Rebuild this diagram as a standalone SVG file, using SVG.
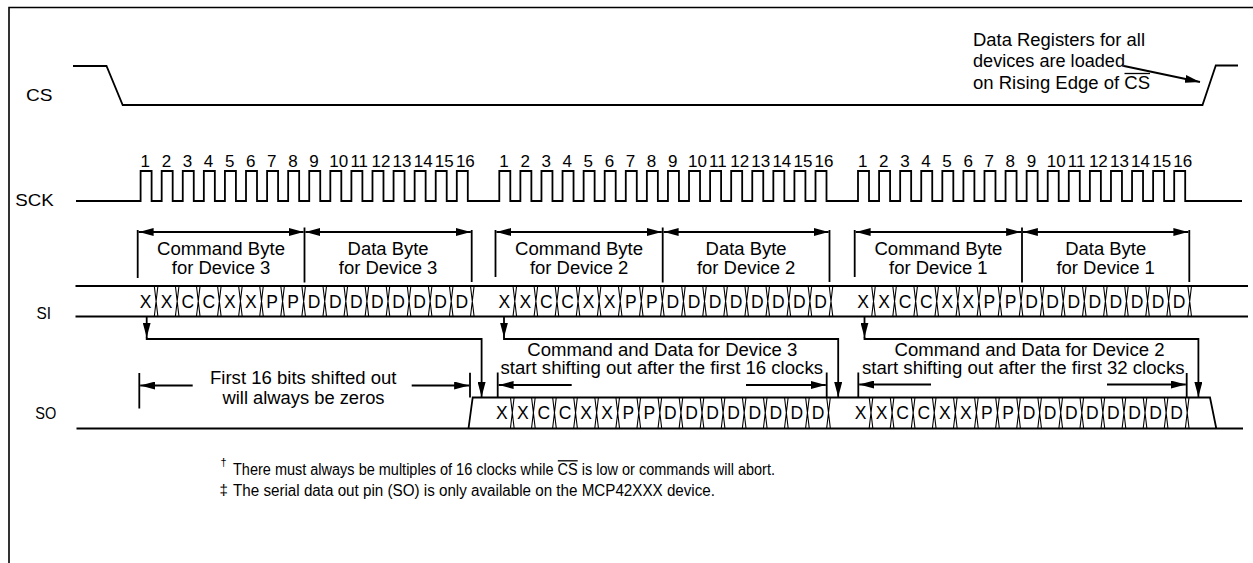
<svg xmlns="http://www.w3.org/2000/svg" width="1253" height="563" viewBox="0 0 1253 563">
<style>
.sig{fill:none;stroke:#000;stroke-width:1.8}
.thin{fill:none;stroke:#000;stroke-width:1.1}
.ovl{fill:none;stroke:#000;stroke-width:1.3}
text{font-family:"Liberation Sans",Arial,sans-serif;fill:#000}
.lbl{font-size:16.5px}
.ann{font-size:17.5px}
.bit{font-size:17.5px;text-anchor:middle}
.num{font-size:17px}
.fn{font-size:16px}
</style>
<defs>
<marker id="ah" viewBox="0 0 15 8" refX="15" refY="4" markerWidth="15" markerHeight="8" markerUnits="userSpaceOnUse" orient="auto-start-reverse"><path d="M0,0 L15,4 L0,8 z" fill="#000"/></marker>
<g id="word">
<path class="thin" d="M-1.8,0L1.8,30.5M-1.8,30.5L1.8,0M19.28,0L22.88,30.5M19.28,30.5L22.88,0M40.36,0L43.96,30.5M40.36,30.5L43.96,0M61.44,0L65.04,30.5M61.44,30.5L65.04,0M82.52,0L86.12,30.5M82.52,30.5L86.12,0M103.6,0L107.2,30.5M103.6,30.5L107.2,0M124.68,0L128.28,30.5M124.68,30.5L128.28,0M145.76,0L149.36,30.5M145.76,30.5L149.36,0M166.84,0L170.44,30.5M166.84,30.5L170.44,0M187.92,0L191.52,30.5M187.92,30.5L191.52,0M209,0L212.6,30.5M209,30.5L212.6,0M230.08,0L233.68,30.5M230.08,30.5L233.68,0M251.16,0L254.76,30.5M251.16,30.5L254.76,0M272.24,0L275.84,30.5M272.24,30.5L275.84,0M293.32,0L296.92,30.5M293.32,30.5L296.92,0M314.4,0L318,30.5M314.4,30.5L318,0"/>
<text class="bit" x="-10.54" y="21.8">X</text>
<text class="bit" x="10.54" y="21.8">X</text>
<text class="bit" x="31.62" y="21.8">C</text>
<text class="bit" x="52.70" y="21.8">C</text>
<text class="bit" x="73.78" y="21.8">X</text>
<text class="bit" x="94.86" y="21.8">X</text>
<text class="bit" x="115.94" y="21.8">P</text>
<text class="bit" x="137.02" y="21.8">P</text>
<text class="bit" x="158.10" y="21.8">D</text>
<text class="bit" x="179.18" y="21.8">D</text>
<text class="bit" x="200.26" y="21.8">D</text>
<text class="bit" x="221.34" y="21.8">D</text>
<text class="bit" x="242.42" y="21.8">D</text>
<text class="bit" x="263.50" y="21.8">D</text>
<text class="bit" x="284.58" y="21.8">D</text>
<text class="bit" x="305.66" y="21.8">D</text>
</g>
<g id="nums">
<text class="num" x="0" y="0">1</text>
<text class="num" x="21.08" y="0">2</text>
<text class="num" x="42.16" y="0">3</text>
<text class="num" x="63.24" y="0">4</text>
<text class="num" x="84.32" y="0">5</text>
<text class="num" x="105.4" y="0">6</text>
<text class="num" x="126.48" y="0">7</text>
<text class="num" x="147.56" y="0">8</text>
<text class="num" x="168.64" y="0">9</text>
<text class="num" x="188.7" y="0">10</text>
<text class="num" x="209.8" y="0">11</text>
<text class="num" x="230.9" y="0">12</text>
<text class="num" x="252" y="0">13</text>
<text class="num" x="273.1" y="0">14</text>
<text class="num" x="294.2" y="0">15</text>
<text class="num" x="315.3" y="0">16</text>
</g>
</defs>

<g id="border"><path class="sig" style="stroke-width:1.6" d="M9,563 V7.5 H1253"/></g>

<g id="signal-cs">
<text class="lbl" x="26" y="100.5" textLength="26.5" lengthAdjust="spacingAndGlyphs">CS</text>
<path class="sig" d="M73,66 H106.5 L122.7,105 H1202.5 L1215.8,65.5 H1238"/>
</g>

<g id="note-load">
<text class="ann" x="973" y="46" textLength="172" lengthAdjust="spacingAndGlyphs">Data Registers for all</text>
<text class="ann" x="973" y="67" textLength="152" lengthAdjust="spacingAndGlyphs">devices are loaded</text>
<text class="ann" x="973" y="89" textLength="177" lengthAdjust="spacingAndGlyphs">on Rising Edge of CS</text>
<path class="ovl" d="M1124.5,73.5 H1150"/>
</g>

<g id="signal-sck">
<text class="lbl" x="15.3" y="206" textLength="38.5" lengthAdjust="spacingAndGlyphs">SCK</text>
<path class="sig" d="M76,201 H140.6 v-30h11v30h10.08v-30h11v30h10.08v-30h11v30h10.08v-30h11v30h10.08v-30h11v30h10.08v-30h11v30h10.08v-30h11v30h10.08v-30h11v30h10.08v-30h11v30h10.08v-30h11v30h10.08v-30h11v30h10.08v-30h11v30h10.08v-30h11v30h10.08v-30h11v30h10.08v-30h11v30h10.08v-30h11v30h10.08 H499.3 v-30h11v30h10.08v-30h11v30h10.08v-30h11v30h10.08v-30h11v30h10.08v-30h11v30h10.08v-30h11v30h10.08v-30h11v30h10.08v-30h11v30h10.08v-30h11v30h10.08v-30h11v30h10.08v-30h11v30h10.08v-30h11v30h10.08v-30h11v30h10.08v-30h11v30h10.08v-30h11v30h10.08v-30h11v30h10.08 H858 v-30h11v30h10.08v-30h11v30h10.08v-30h11v30h10.08v-30h11v30h10.08v-30h11v30h10.08v-30h11v30h10.08v-30h11v30h10.08v-30h11v30h10.08v-30h11v30h10.08v-30h11v30h10.08v-30h11v30h10.08v-30h11v30h10.08v-30h11v30h10.08v-30h11v30h10.08v-30h11v30h10.08v-30h11v30h10.08 H1242"/>
<use href="#nums" transform="translate(140.6,166.5)"/>
<use href="#nums" transform="translate(499.3,166.5)"/>
<use href="#nums" transform="translate(858,166.5)"/>
</g>

<g id="brackets">
<path class="sig" d="M137.7,230 V278 M304.5,227.5 V282.5 M471.7,230 V282 M495.5,230 V277 M662.7,227.5 V282.5 M829.5,230 V282 M854.7,230 V277 M1022,227.5 V282.5 M1189.3,230 V282"/>
<path class="sig" marker-start="url(#ah)" marker-end="url(#ah)" d="M138.6,232 H303.6"/>
<path class="sig" marker-start="url(#ah)" marker-end="url(#ah)" d="M305.4,232 H470.8"/>
<path class="sig" marker-start="url(#ah)" marker-end="url(#ah)" d="M496.4,232 H661.8"/>
<path class="sig" marker-start="url(#ah)" marker-end="url(#ah)" d="M663.6,232 H828.6"/>
<path class="sig" marker-start="url(#ah)" marker-end="url(#ah)" d="M855.6,232 H1021.1"/>
<path class="sig" marker-start="url(#ah)" marker-end="url(#ah)" d="M1022.9,232 H1188.4"/>
<text class="ann" x="157" y="255" textLength="128" lengthAdjust="spacingAndGlyphs">Command Byte</text>
<text class="ann" x="171.8" y="273.5" textLength="98.5" lengthAdjust="spacingAndGlyphs">for Device 3</text>
<text class="ann" x="347.6" y="255" textLength="81" lengthAdjust="spacingAndGlyphs">Data Byte</text>
<text class="ann" x="338.8" y="273.5" textLength="98.5" lengthAdjust="spacingAndGlyphs">for Device 3</text>
<text class="ann" x="515.1" y="255" textLength="128" lengthAdjust="spacingAndGlyphs">Command Byte</text>
<text class="ann" x="529.9" y="273.5" textLength="98.5" lengthAdjust="spacingAndGlyphs">for Device 2</text>
<text class="ann" x="705.6" y="255" textLength="81" lengthAdjust="spacingAndGlyphs">Data Byte</text>
<text class="ann" x="696.9" y="273.5" textLength="98.5" lengthAdjust="spacingAndGlyphs">for Device 2</text>
<text class="ann" x="874.4" y="255" textLength="128" lengthAdjust="spacingAndGlyphs">Command Byte</text>
<text class="ann" x="889.1" y="273.5" textLength="98.5" lengthAdjust="spacingAndGlyphs">for Device 1</text>
<text class="ann" x="1065.2" y="255" textLength="81" lengthAdjust="spacingAndGlyphs">Data Byte</text>
<text class="ann" x="1056.4" y="273.5" textLength="98.5" lengthAdjust="spacingAndGlyphs">for Device 1</text>
</g>

<g id="signal-si">
<text class="lbl" x="36.5" y="318.5" textLength="14.5" lengthAdjust="spacingAndGlyphs">SI</text>
<path class="sig" d="M75.5,286 H1248 M75.5,316.5 H1248"/>
<use href="#word" transform="translate(156.1,286)"/>
<use href="#word" transform="translate(514.8,286)"/>
<use href="#word" transform="translate(873.5,286)"/>
</g>

<g id="signal-so">
<text class="lbl" x="35.3" y="419" textLength="21" lengthAdjust="spacingAndGlyphs">SO</text>
<path class="sig" d="M76.5,428.5 H1243 M468.5,428.5 L472.7,397.5 H1210 L1216.3,428.5"/>
<use href="#word" transform="translate(512.3,397.5)"/>
<use href="#word" transform="translate(871,397.5)"/>
</g>

<g id="so-notes">
<path class="sig" d="M139.3,373 V408.5 M470,372.7 V397.5 M497.7,372.5 V397.5 M826.7,372.5 V397.5 M858.3,372.5 V397.5 M1186.7,373 V397.5"/>
<path class="sig" marker-end="url(#ah)" d="M192.7,385.5 H140.2"/>
<path class="sig" marker-end="url(#ah)" d="M411.7,385.5 H469.1"/>
<path class="sig" marker-end="url(#ah)" d="M571.7,385 H498.6"/>
<path class="sig" marker-end="url(#ah)" d="M746,385 H825.8"/>
<path class="sig" marker-end="url(#ah)" d="M931,384.5 H859.2"/>
<path class="sig" marker-end="url(#ah)" d="M1107,384.5 H1185.8"/>
<text class="ann" x="210" y="383.5" textLength="186.5" lengthAdjust="spacingAndGlyphs">First 16 bits shifted out</text>
<text class="ann" x="222.5" y="403.5" textLength="162" lengthAdjust="spacingAndGlyphs">will always be zeros</text>
<text class="ann" x="527.3" y="355.5" textLength="270" lengthAdjust="spacingAndGlyphs">Command and Data for Device 3</text>
<text class="ann" x="500.5" y="373.5" textLength="322.5" lengthAdjust="spacingAndGlyphs">start shifting out after the first 16 clocks</text>
<text class="ann" x="894.5" y="355.5" textLength="270" lengthAdjust="spacingAndGlyphs">Command and Data for Device 2</text>
<text class="ann" x="862" y="373.5" textLength="322.5" lengthAdjust="spacingAndGlyphs">start shifting out after the first 32 clocks</text>
</g>

<g id="connectors">
<path class="sig" marker-end="url(#ah)" d="M1124,66 L1200,82"/>
<path class="sig" marker-end="url(#ah)" d="M146.7,316.5 V337.5"/>
<path class="sig" marker-end="url(#ah)" d="M146.7,337 V339 H481.6 V397"/>
<path class="sig" marker-end="url(#ah)" d="M504,316.5 V337.5"/>
<path class="sig" marker-end="url(#ah)" d="M504,337 V339 H838.2 V397"/>
<path class="sig" marker-end="url(#ah)" d="M864.5,316.5 V337.5"/>
<path class="sig" marker-end="url(#ah)" d="M864.5,337 V339 H1198.4 V397"/>
</g>

<g id="footnotes">
<text x="220.5" y="466" style="font-size:11px">†</text>
<text class="fn" x="233" y="474.5" textLength="542" lengthAdjust="spacingAndGlyphs">There must always be multiples of 16 clocks while CS is low or commands will abort.</text>
<path class="ovl" d="M557.8,460.8 H577.7"/>
<text x="219.5" y="495" style="font-size:15px">‡</text>
<text class="fn" x="233" y="496" textLength="482" lengthAdjust="spacingAndGlyphs">The serial data out pin (SO) is only available on the MCP42XXX device.</text>
</g>
</svg>
